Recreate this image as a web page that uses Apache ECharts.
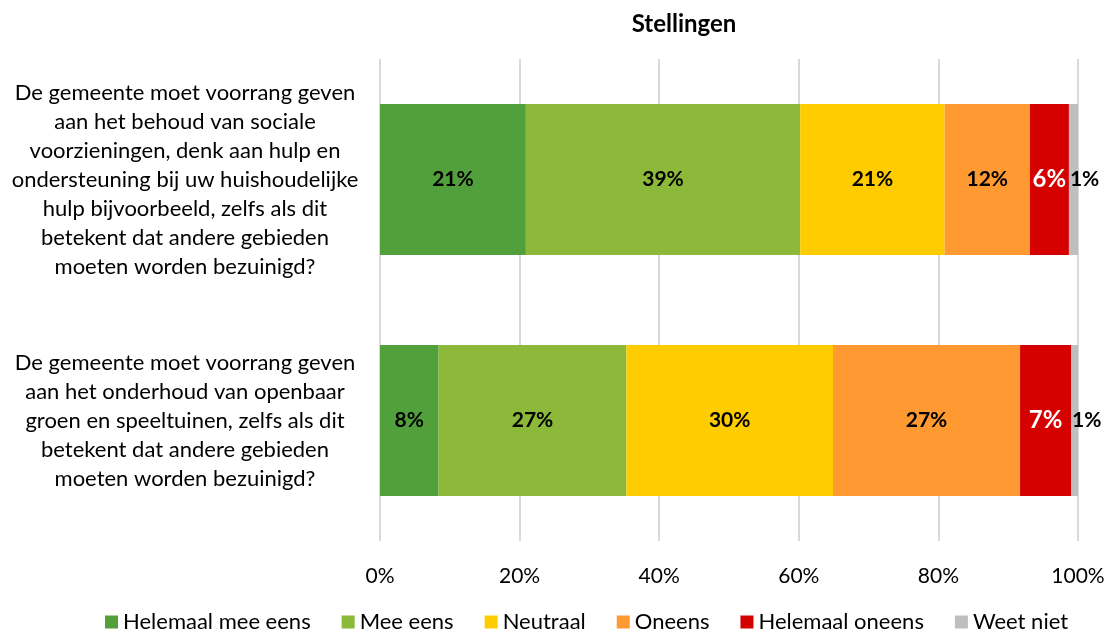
<!DOCTYPE html>
<html>
<head>
<meta charset="utf-8">
<script src="https://cdn.jsdelivr.net/npm/echarts@6/dist/echarts.min.js"></script>
<style>html,body{margin:0;padding:0;background:#fff}#c{width:1110px;height:633px}</style>
</head>
<body>
<div id="c"></div>
<script>
const categories = [
  "De gemeente moet voorrang geven\naan het behoud van sociale\nvoorzieningen, denk aan hulp en\nondersteuning bij uw huishoudelijke\nhulp bijvoorbeeld, zelfs als dit\nbetekent dat andere gebieden\nmoeten worden bezuinigd?",
  "De gemeente moet voorrang geven\naan het onderhoud van openbaar\ngroen en speeltuinen, zelfs als dit\nbetekent dat andere gebieden\nmoeten worden bezuinigd?"
];
const seriesNames = ["Helemaal mee eens", "Mee eens", "Neutraal", "Oneens", "Helemaal oneens", "Weet niet"];
const helemaalMeeEens = [20.9, 8.4];
const meeEens = [39.3, 26.9];
const neutraal = [20.7, 29.6];
const oneens = [12.2, 26.8];
const helemaalOneens = [5.6, 7.3];
const weetNiet = [1.3, 1.0];
const tickValues = [0, 20, 40, 60, 80, 100];

const FONT = 'Lato';
const colors = ['#52A03C', '#8CB93A', '#FFCC00', '#FF9A33', '#D50000', '#BFBFBF'];
const values = [helemaalMeeEens, meeEens, neutraal, oneens, helemaalOneens, weetNiet];

const series = seriesNames.map((name, i) => {
  let label = {
    show: true, position: 'inside', fontFamily: FONT, fontWeight: 'bold', fontSize: 21, color: '#000',
    formatter: p => Math.round(p.value) + '%'
  };
  if (i === 4) { label.color = '#fff'; label.fontSize = 24; }
  if (i === 5) { label.position = 'insideLeft'; label.distance = 1; }
  return {
    name, type: 'bar', stack: 'total', data: values[i], barWidth: 151,
    itemStyle: { color: colors[i] }, label,
    emphasis: { disabled: true }
  };
});

const chart = echarts.init(document.getElementById('c'), null, { renderer: 'canvas' });
chart.setOption({
  animation: false,
  title: {
    text: 'Stellingen', left: 679, top: 7, textAlign: 'center',
    textStyle: { fontFamily: FONT, fontWeight: 'bold', fontSize: 24, color: '#000' }
  },
  grid: { left: 380, right: 32, top: 59, bottom: 92 },
  xAxis: {
    type: 'value', min: tickValues[0], max: tickValues[tickValues.length - 1], interval: 20,
    axisLine: { show: false }, axisTick: { show: false },
    splitLine: { show: true, lineStyle: { color: '#D9D9D9', width: 2 } },
    axisLabel: { formatter: '{value}%', fontFamily: FONT, fontSize: 21, color: '#000', margin: 25 }
  },
  yAxis: {
    type: 'category', data: categories, inverse: true,
    axisLine: { show: false }, axisTick: { show: false },
    axisLabel: { align: 'center', margin: 195, fontFamily: FONT, fontSize: 22, lineHeight: 29, color: '#000' }
  },
  legend: {
    top: 606, left: 100, itemWidth: 13, itemHeight: 13, itemGap: 31,
    icon: 'rect',
    textStyle: { fontFamily: FONT, fontSize: 22, color: '#000' },
    data: seriesNames
  },
  series
});
</script>
</body>
</html>
